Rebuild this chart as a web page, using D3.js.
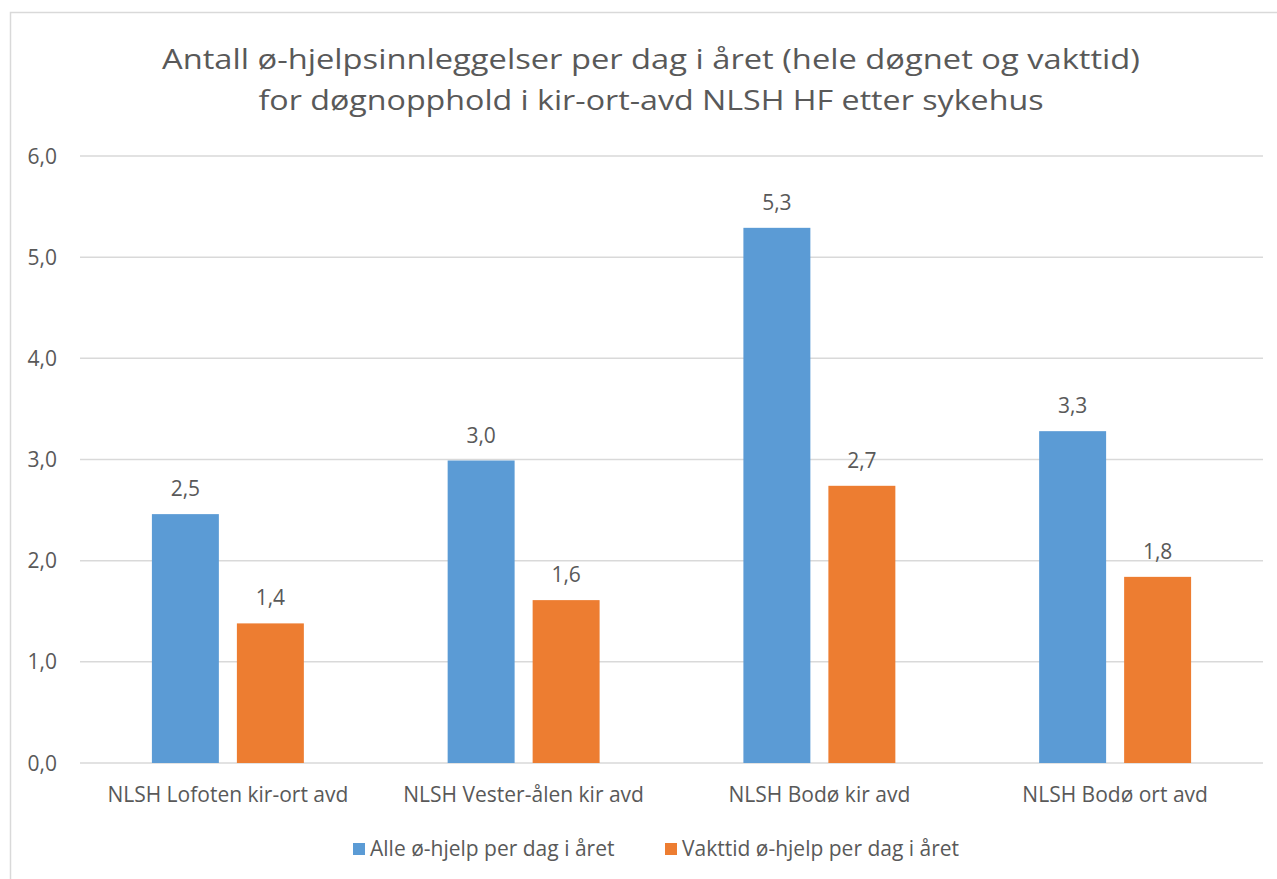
<!DOCTYPE html>
<html>
<head>
<meta charset="utf-8">
<script src="https://cdn.jsdelivr.net/npm/d3@7"></script>
<style>
  body { margin: 0; background: #fff; }
  text { font-family: "Open Sans", "DejaVu Sans", sans-serif; fill: #595959; }
</style>
</head>
<body>
<svg id="chart"></svg>
<script>
let categories = ["NLSH Lofoten kir-ort avd", "NLSH Vester-ålen kir avd", "NLSH Bodø kir avd", "NLSH Bodø ort avd"];
let seriesNames = ["Alle ø-hjelp per dag i året", "Vakttid ø-hjelp per dag i året"];
let alleValues = [2.46, 2.99, 5.29, 3.28];
let vaktValues = [1.38, 1.61, 2.74, 1.84];
let yTicks = [0, 1, 2, 3, 4, 5, 6];
let titleLines = ["Antall ø-hjelpsinnleggelser  per dag i året (hele døgnet og vakttid)", "for døgnopphold  i kir-ort-avd NLSH HF etter sykehus"];

let colors = ["#5b9bd5", "#ed7d31"];

let W = 1277, H = 879;
let plot = {left: 80, right: 1263, top: 156, bottom: 763};

let svg = d3.select('#chart')
            .attr('width', W)
            .attr('height', H);

// outer chart frame
svg.append('rect')
    .attr('x', 10.5).attr('y', 12.5)
    .attr('width', W + 20).attr('height', H + 20)
    .attr('fill', 'white')
    .attr('stroke', '#d9d9d9')
    .attr('stroke-width', 1.5);

// title
svg.selectAll('text.title')
    .data(titleLines).enter()
    .append('text')
        .attr('class', 'title')
        .attr('x', 651)
        .attr('y', (d, i) => 69 + i * 41)
        .attr('text-anchor', 'middle')
        .attr('textLength', (d, i) => i == 0 ? 978 : 785)
        .attr('lengthAdjust', 'spacingAndGlyphs')
        .style('font-size', '27px')
        .text(d => d);

let y = d3.scaleLinear().domain([0, 6]).range([plot.bottom, plot.top]);
let x0 = d3.scaleBand().domain(categories).range([plot.left, plot.right]);
let x1 = d3.scaleBand().domain([0, 1]).range([0, x0.bandwidth()]).paddingInner(0.212).paddingOuter(0.846);

// gridlines
svg.append('g')
    .selectAll('line')
    .data(yTicks).enter()
    .append('line')
        .attr('x1', plot.left).attr('x2', plot.right)
        .attr('y1', d => y(d)).attr('y2', d => y(d))
        .attr('stroke', '#d9d9d9')
        .attr('stroke-width', 1.5);

let fmt = d => d3.format('.1f')(d).replace('.', ',');

// y tick labels
svg.append('g')
    .selectAll('text')
    .data(yTicks).enter()
    .append('text')
        .attr('x', 57)
        .attr('y', d => y(d) + 7.5)
        .attr('text-anchor', 'end')
        .style('font-size', '21px')
        .text(fmt);

let rows = categories.map((c, i) => ({cat: c, vals: [alleValues[i], vaktValues[i]]}));

let groups = svg.selectAll('g.cat')
    .data(rows).enter()
    .append('g')
        .attr('class', 'cat')
        .attr('transform', d => `translate(${x0(d.cat)},0)`);

groups.selectAll('rect')
    .data(d => d.vals).enter()
    .append('rect')
        .attr('x', (d, i) => x1(i))
        .attr('y', d => y(d))
        .attr('width', x1.bandwidth())
        .attr('height', d => y(0) - y(d))
        .attr('fill', (d, i) => colors[i]);

// data labels
groups.selectAll('text.val')
    .data(d => d.vals).enter()
    .append('text')
        .attr('class', 'val')
        .attr('x', (d, i) => x1(i) + x1.bandwidth() / 2)
        .attr('y', d => y(d) - 18)
        .attr('text-anchor', 'middle')
        .style('font-size', '21px')
        .text(fmt);

// category labels
svg.append('g')
    .selectAll('text')
    .data(categories).enter()
    .append('text')
        .attr('x', d => x0(d) + x0.bandwidth() / 2)
        .attr('y', 802)
        .attr('text-anchor', 'middle')
        .style('font-size', '21px')
        .text(d => d);

// legend
let legendX = [353, 665];
let legend = svg.selectAll('g.legend')
    .data(seriesNames).enter()
    .append('g')
        .attr('class', 'legend')
        .attr('transform', (d, i) => `translate(${legendX[i]},843)`);

legend.append('rect')
    .attr('width', 12).attr('height', 12)
    .attr('fill', (d, i) => colors[i]);

legend.append('text')
    .attr('x', 17)
    .attr('y', 13)
    .style('font-size', '21px')
    .text(d => d);
</script>
</body>
</html>
